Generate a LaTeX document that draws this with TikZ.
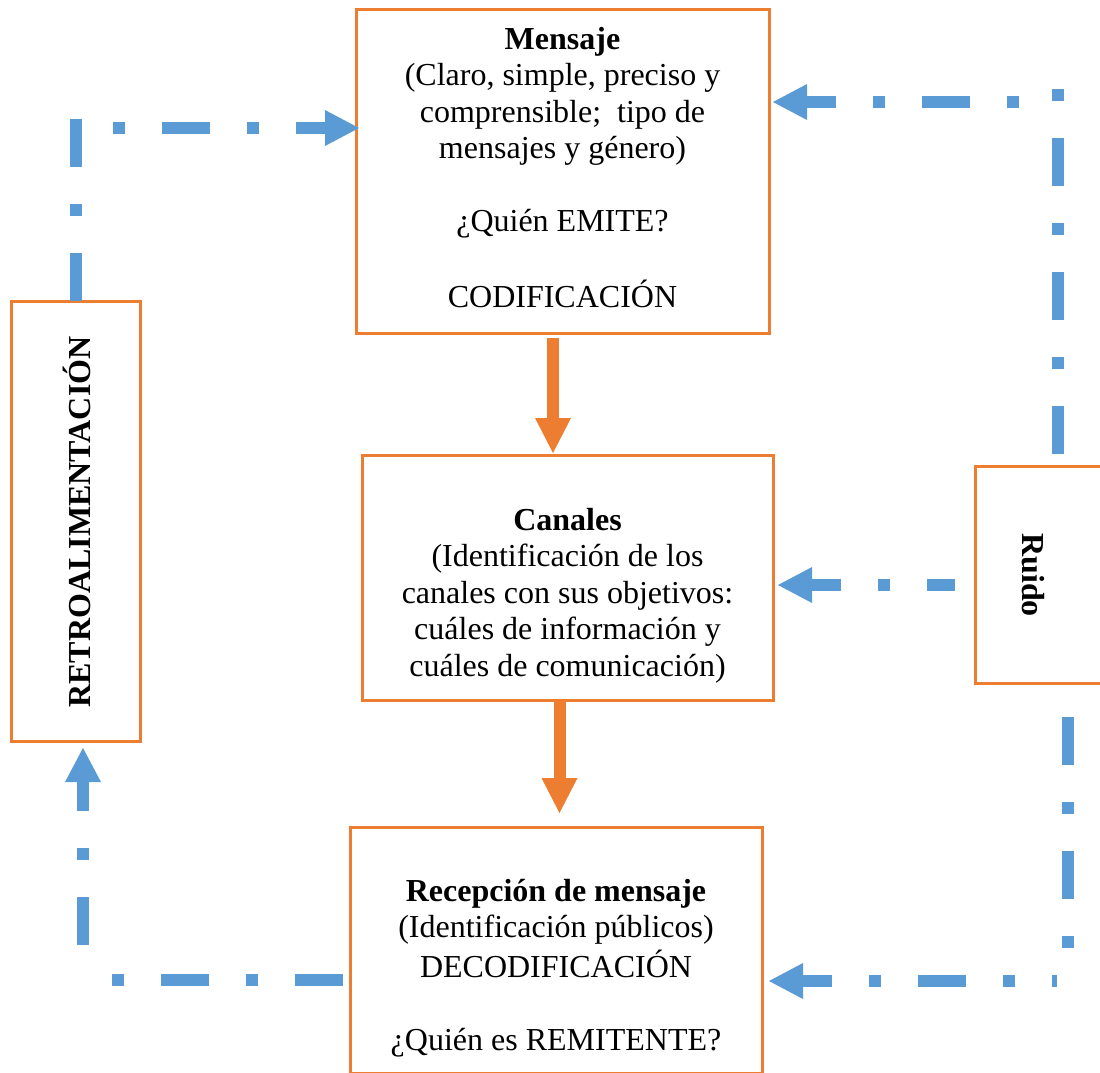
\documentclass[tikz,border=0pt]{standalone}
\usepackage{fontspec}
\setmainfont{Liberation Serif}
\usetikzlibrary{arrows.meta}
\definecolor{boxorange}{HTML}{ED7D31}
\definecolor{flowblue}{HTML}{5B9BD5}
\begin{document}
\begin{tikzpicture}[x=1pt,y=-1pt,
  box/.style={draw=boxorange, line width=3pt, rectangle, inner sep=0pt, outer sep=0pt,
    align=center, font=\fontsize{32}{36.5}\selectfont},
  sidetext/.style={inner sep=0pt, anchor=base, font=\fontsize{32}{36.5}\selectfont\bfseries},
  flow/.style={draw=flowblue, line width=12pt, dash pattern=on 48pt off 37pt on 12pt off 37pt},
  flowtip/.style={-{Triangle[length=34pt,width=36pt,line width=0pt]}},
  push/.style={draw=boxorange, line width=12pt, -{Triangle[length=35pt,width=36pt,line width=0pt]}},
]
\useasboundingbox (0,0) rectangle (1100,1072);

% process boxes
\node[box, minimum width=413pt, minimum height=324pt] (mensaje) at (562.5,171)
  {\strut\textbf{Mensaje}\\
   \strut(Claro, simple, preciso y\\
   \strut comprensible;\ \ tipo de\\
   \strut mensajes y género)\\
   \strut\\
   \strut¿Quién EMITE?\\
   \strut\\
   \strut CODIFICACIÓN};

\node[box, minimum width=411pt, minimum height=245pt] (canales) at (567.5,577.5)
  {\strut\\
   \strut\textbf{Canales}\\
   \strut(Identificación de los\\
   \strut canales con sus objetivos:\\
   \strut cuáles de información y\\
   \strut cuáles de comunicación)};

\node[box, minimum width=412pt, minimum height=246pt] (recep) at (556,950)
  {\strut\\
   \strut\textbf{Recepción de mensaje}\\
   \strut(Identificación públicos)\\
   \strut DECODIFICACIÓN\\
   \strut\\
   \strut¿Quién es REMITENTE?};

% side boxes with vertical labels
\node[box, minimum width=129pt, minimum height=440pt] (retro) at (75.5,521) {};
\node[sidetext, rotate=90] (retrotext) at (90,522) {RETROALIMENTACIÓN};

\node[box, minimum width=129pt, minimum height=217pt] (ruido) at (1039.5,574.5) {};
\node[sidetext, rotate=-90] (ruidotext) at (1022,575) {Ruido};

% main flow
\draw[push, shorten <=5pt, shorten >=2pt] ([xshift=-9.5pt]mensaje.south) -- ([xshift=-14.5pt]canales.north);
\draw[push, shorten >=14pt] ([xshift=-8pt]canales.south) -- ([xshift=3.5pt]recep.north);

% feedback loop: reception -> feedback -> message
\coordinate (eturn) at (112,980);
\draw[flow, shorten <=7pt] (recep.west |- eturn) -- (eturn);
\coordinate (estart) at (83,945);
\draw[flow, flowtip, shorten >=7pt] (estart) -- (retro.south -| estart);

\coordinate (aturn) at (75.5,118);
\draw[flow] (retro.north) -- (aturn);
\coordinate (astart) at (113,128);
\draw[flow, flowtip, dash phase=85pt, shorten >=-3pt] (astart) -- (mensaje.west |- astart);

% noise acting on every stage
\coordinate (bturn) at (1057.5,89);
\draw[flow] ([xshift=18pt,yshift=12pt]ruido.north) -- (bturn);
\coordinate (bstart) at (1019,102);
\draw[flow, flowtip, dash phase=85pt, shorten >=4pt] (bstart) -- (mensaje.east |- bstart);

\coordinate (cstart) at ([yshift=-10.5pt]ruido.west);
\draw[flow, flowtip, dash phase=20pt, shorten <=20pt, shorten >=5pt] (cstart) -- (canales.east |- cstart);

\coordinate (dturn) at (1067.5,949);
\draw[flow] ([xshift=28pt,yshift=-34pt]ruido.south) -- (dturn);
\coordinate (dstart) at (1057,981);
\draw[flow, flowtip, dash phase=43pt, shorten >=7pt] (dstart) -- (recep.east |- dstart);
\end{tikzpicture}
\end{document}
